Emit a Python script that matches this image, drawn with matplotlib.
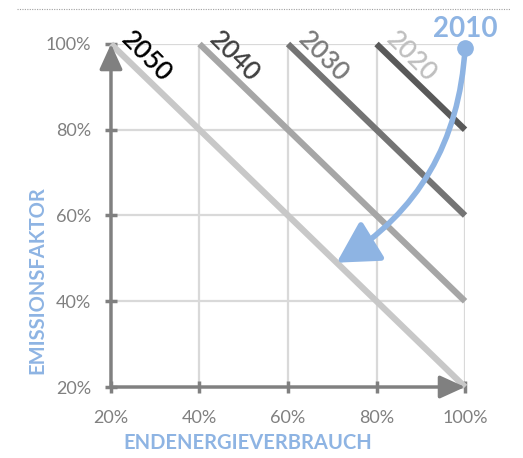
import matplotlib.pyplot as plt
import matplotlib.lines as mlines
from matplotlib.patches import FancyArrowPatch

plt.rcParams['font.family'] = ['Lato', 'DejaVu Sans']

# data
ticks = [0.2, 0.4, 0.6, 0.8, 1.0]
tick_labels = ["20%", "40%", "60%", "80%", "100%"]
years = ["2050", "2040", "2030", "2020"]
line_start_x = [0.2, 0.4, 0.6, 0.8]   # at y = 100%
line_end_y = [0.2, 0.4, 0.6, 0.8]     # at x = 100%
line_colors = ["#c8c8c8", "#a6a6a6", "#747474", "#595959"]
label_colors = ["#000000", "#404040", "#7a7a7a", "#bfbfbf"]
start_2010 = (1.0, 0.99)
end_arrow = (0.71, 0.49)

blue = "#8eb4e3"
axis_gray = "#808080"

fig = plt.figure(figsize=(5.23, 4.58), dpi=100)
ax = fig.add_axes([0.2122, 0.155, 0.677, 0.749])
ax.set_xlim(0.2, 1.0)
ax.set_ylim(0.2, 1.0)
for s in ax.spines.values():
    s.set_visible(False)

# grid
for t in ticks[1:]:
    ax.axvline(t, color="#d9d9d9", lw=1.6, zorder=0)
    ax.axhline(t, color="#d9d9d9", lw=1.6, zorder=0)

# year lines
for i in range(len(years)):
    ax.plot([line_start_x[i], 1.0], [1.0, line_end_y[i]], color=line_colors[i],
            lw=4.5, solid_capstyle="butt", zorder=2, clip_on=False)
    ax.text(line_start_x[i] + 0.083, 0.975, years[i], rotation=-45, fontsize=18.5,
            fontweight="semibold", color=label_colors[i], ha="center",
            va="center_baseline", zorder=3, rotation_mode="anchor")

# axes with arrows
for xy in [(1.0, 0.2), (0.2, 1.0)]:
    ax.annotate("", xy=xy, xytext=(0.2, 0.2),
                arrowprops=dict(arrowstyle="-|>,head_length=1.1,head_width=0.5",
                                color=axis_gray, lw=2.5, shrinkA=0, shrinkB=0,
                                mutation_scale=14),
                annotation_clip=False, zorder=4)

ax.set_xticks(ticks)
ax.set_xticklabels(tick_labels)
ax.set_yticks(ticks)
ax.set_yticklabels(tick_labels)
ax.tick_params(direction="inout", length=9, width=2.5, color=axis_gray,
               labelcolor=axis_gray, labelsize=13)
ax.tick_params(axis="x", pad=12)
ax.tick_params(axis="y", pad=10)

fig.text(248 / 523, 1 - 443 / 458, "ENDENERGIEVERBRAUCH", color=blue,
         fontsize=14.5, fontweight="bold", ha="center", va="center")
fig.text(37 / 523, 1 - 280 / 458, "EMISSIONSFAKTOR", color=blue,
         fontsize=14.5, fontweight="bold", ha="center", va="center",
         rotation=90)

# 2010 curve
arrow = FancyArrowPatch(start_2010, end_arrow, connectionstyle="arc3,rad=-0.26",
                        arrowstyle="-|>,head_length=1.25,head_width=0.7",
                        mutation_scale=20, color=blue, lw=4, shrinkA=0, shrinkB=0,
                        zorder=5, clip_on=False)
ax.add_patch(arrow)
ax.plot([start_2010[0]], [start_2010[1]], "o", color=blue, ms=11, zorder=6,
        clip_on=False)
ax.text(start_2010[0], start_2010[1] + 0.045, "2010", color=blue, fontsize=20,
        fontweight="bold", ha="center", va="center")

# dotted line at top
fig.add_artist(mlines.Line2D([0.032, 0.975], [0.98, 0.98], color="#a0a0a0",
                             lw=0.8, linestyle=(0, (1, 1.2))))

fig.savefig("out.png", dpi=100)
